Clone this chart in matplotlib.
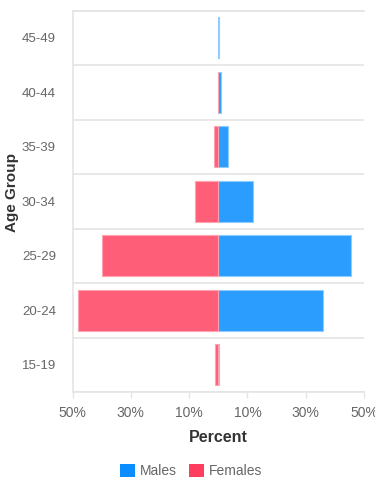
import matplotlib
matplotlib.use("Agg")
import matplotlib.pyplot as plt
import numpy as np
from matplotlib.patches import Patch

plt.rcParams['font.family'] = ['Liberation Sans', 'DejaVu Sans']

age_groups = ['15-19', '20-24', '25-29', '30-34', '35-39', '40-44', '45-49']
males = [0.4, 35.9, 45.5, 11.8, 3.2, 0.8, 0.2]
females = [1.0, 48.1, 39.9, 8.1, 1.6, 0.2, 0.0]
xticks = [-50, -30, -10, 10, 30, 50]
xtick_labels = ['50%', '30%', '10%', '10%', '30%', '50%']

male_color = '#2A9DFF'
male_edge = '#90CCFF'
female_color = '#FF5E78'
female_edge = '#FFA3B2'
legend_male = '#0A8EFF'
legend_female = '#FF3D5E'
grid_color = '#E4E4E4'

fig = plt.figure(figsize=(3.75, 4.8), dpi=100)
ax = fig.add_axes([72.5 / 375, 1 - 392 / 480, (364 - 72.5) / 375, (392 - 10.5) / 480])

y = np.arange(len(age_groups))
h = 0.75
m_lw = [0.8 if v > 0 else 0 for v in males]
f_lw = [0.8 if v > 0 else 0 for v in females]
ax.barh(y, males, height=h, color=male_color, edgecolor=male_edge, linewidth=m_lw, zorder=3)
ax.barh(y, [-f for f in females], height=h, color=female_color, edgecolor=female_edge,
        linewidth=f_lw, zorder=3)

ax.set_xlim(-50, 50)
ax.set_ylim(-0.5, len(age_groups) - 0.5)
ax.set_xticks(xticks)
ax.set_xticklabels(xtick_labels)
ax.set_yticks(y)
ax.set_yticklabels(age_groups)
ax.set_yticks(np.arange(-0.5, len(age_groups), 1), minor=True)
ax.grid(axis='y', which='minor', color=grid_color, linewidth=1.2, zorder=0)
ax.grid(axis='x', which='major', visible=False)

ax.tick_params(axis='y', which='both', length=0, pad=12, labelsize=9.5, labelcolor='#666666')
ax.tick_params(axis='x', length=4, width=1, color=grid_color, pad=6, labelsize=10, labelcolor='#666666')

for s in ['left', 'bottom', 'top']:
    ax.spines[s].set_color(grid_color)
    ax.spines[s].set_linewidth(1.2)
ax.spines['right'].set_visible(False)

fig.text(218 / 375, 1 - 438 / 480, 'Percent', ha='center', va='center',
         fontsize=11.5, fontweight='bold', color='#333333')
fig.text(12 / 375, 1 - 193 / 480, 'Age Group', ha='center', va='center',
         rotation=90, fontsize=11, fontweight='bold', color='#333333')

handles = [Patch(facecolor=legend_male, edgecolor='none', label='Males'),
           Patch(facecolor=legend_female, edgecolor='none', label='Females')]
fig.legend(handles=handles, loc='center', bbox_to_anchor=(191 / 375, 1 - 471 / 480),
           ncol=2, frameon=False, fontsize=10, handlelength=1.1, handleheight=1.1,
           handletextpad=0.3, columnspacing=0.9, labelcolor='#666666')

fig.savefig('out.png', dpi=100)
